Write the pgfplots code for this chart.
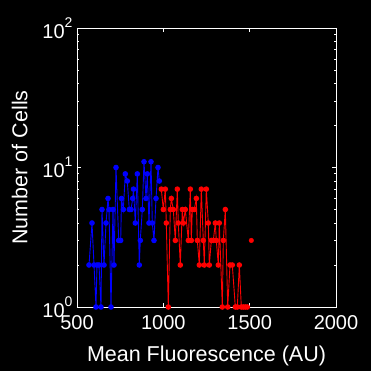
\documentclass[border=0pt]{standalone}
\usepackage{pgfplots}
\pgfplotsset{compat=1.18}
\usepackage{fontspec}
\setmainfont{Liberation Sans}
\usetikzlibrary{backgrounds}
\pgfplotstableread{
x y
569.5 2
586.9 4
598.5 2
610.0 1
615.8 2
627.4 2
639.0 1
644.8 5
656.4 2
668.0 4
679.6 6
685.3 5
696.9 1
708.5 5
714.3 2
725.9 10
741.5 3
753.1 3
757.7 6
768.2 5
779.8 9
791.3 8
802.9 5
812.8 5
822.6 6
827.2 7
837.7 4
849.3 9
860.8 2
866.6 3
878.2 5
888.1 11
899.6 6
907.2 9
917.0 4
928.6 11
936.1 4
945.9 3
957.6 6
969.2 10
976.7 8
}\blue
\pgfplotstableread{
x y
988.3 7
999.8 5
1011.4 7
1017.2 4
1028.8 1
1040.4 5
1046.2 6
1057.8 5
1069.3 3
1080.9 7
1086.7 4
1098.3 2
1109.9 5
1115.7 4
1127.3 5
1144.6 3
1156.2 7
1162.0 3
1167.8 5
1179.4 5
1191.0 6
1196.8 3
1208.4 2
1219.9 7
1231.5 3
1237.3 2
1248.9 7
1260.5 4
1266.3 2
1277.9 3
1289.5 3
1301.0 4
1306.8 3
1318.4 2
1324.2 4
1341.6 1
1347.4 3
1359.0 5
1372.9 1
1386.2 2
1399.5 2
1416.9 1
1428.5 1
1440.1 2
1451.6 1
1463.2 1
1474.8 1
1486.4 1
}\red
\pgfplotstableread{
x y
1509.5 3
}\redlone
\begin{document}
\begin{tikzpicture}
\begin{axis}[
  name=ax,
  scale only axis,
  width=259pt, height=279pt,
  xmin=500, xmax=2000,
  ymode=log, ymin=1, ymax=100,
  axis line style={white, line width=0.9pt},
  tick style={white, line width=0.8pt},
  major tick length=4pt, minor tick length=2pt,
  tick align=inside,
  xtick={500,1000,1500,2000},
  xticklabels={500,1000,1500,2000},
  ytick={1,10,100},
  yticklabels={{10\raisebox{1.0ex}{\fontsize{14}{14}\selectfont 0}},{10\raisebox{1.0ex}{\fontsize{14}{14}\selectfont 1}},{10\raisebox{1.0ex}{\fontsize{14}{14}\selectfont 2}}},
  ticklabel style={white, font=\fontsize{20}{20}\selectfont},
  xticklabel style={yshift=-5pt},
  yticklabel style={xshift=-1pt},
  xlabel={Mean Fluorescence (AU)},
  ylabel={Number of Cells},
  label style={white, font=\fontsize{21.5}{21.5}\selectfont},
  xlabel style={yshift=-9pt},
  ylabel style={yshift=8pt},
]
\addplot[blue, line width=0.9pt, mark=*, mark size=2.3pt] table[x=x,y=y] {\blue};
\addplot[red, line width=0.9pt, mark=*, mark size=2.3pt] table[x=x,y=y] {\red};
\addplot[red, only marks, mark=*, mark size=2.3pt] table[x=x,y=y] {\redlone};
\end{axis}
\useasboundingbox (ax.south west) ++(-77pt,-64pt) rectangle ++(371pt,371pt);
\begin{scope}[on background layer]
\fill[black] (ax.south west) ++(-77pt,-64pt) rectangle ++(371pt,371pt);
\end{scope}
\end{tikzpicture}
\end{document}
